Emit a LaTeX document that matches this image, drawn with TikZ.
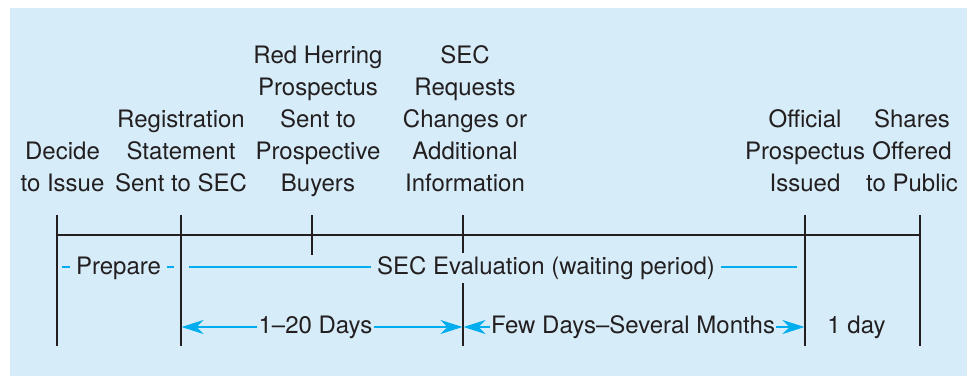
\documentclass[tikz,border=0pt]{standalone}
\usepackage{fontspec}
\setmainfont{TeX Gyre Heros}
\usetikzlibrary{arrows.meta}
\definecolor{bg}{RGB}{214,236,249}
\definecolor{cy}{RGB}{0,174,239}
\definecolor{ink}{RGB}{35,31,32}
\newcommand\stk[1]{\begin{tabular}[b]{@{}c@{}}#1\end{tabular}}
\begin{document}
\begin{tikzpicture}[x=0.5pt,y=-0.5pt,
  every node/.style={font=\fontsize{12}{16}\selectfont, text=ink},
  lbl/.style={anchor=base, inner sep=0pt},
  tick/.style={draw=ink, line width=0.8pt},
  cyl/.style={draw=cy, line width=0.9pt},
  cya/.style={cyl, -{Stealth[length=11pt,width=7pt,inset=3.5pt]}},
  seg/.style={anchor=base, inner xsep=3pt, inner ysep=0pt},
  arl/.style={anchor=base, inner xsep=0.5pt, inner ysep=0pt}]
\useasboundingbox (0,0) rectangle (967,376);
\fill[bg] (10,8) rectangle (967,376);

% event labels
\node[lbl] (decide) at (62.5,191.5) {\stk{Decide\\to Issue}};
\node[lbl] (reg) at (181,191.5) {\stk{Registration\\Statement\\Sent to SEC}};
\node[lbl] (red) at (318,191.5) {\stk{Red Herring\\Prospectus\\Sent to\\Prospective\\Buyers}};
\node[lbl] (secreq) at (465,191.5) {\stk{SEC\\Requests\\Changes or\\Additional\\Information}};
\node[lbl] (off) at (805,191.5) {\stk{Official\\Prospectus\\Issued}};
\node[lbl] (shares) at (912,191.5) {\stk{Shares\\Offered\\to Public}};

% ticks
\coordinate (t1) at (57,215);  \coordinate (b1) at (57,346);
\coordinate (t2) at (181,215); \coordinate (b2) at (181,346);
\coordinate (t3) at (312,215); \coordinate (b3) at (312,255);
\coordinate (t4) at (463,215); \coordinate (m4) at (463,253);
\coordinate (n4) at (463,283); \coordinate (b4) at (463,346);
\coordinate (t5) at (805,215); \coordinate (b5) at (805,346);
\coordinate (t6) at (920,215); \coordinate (b6) at (920,346);
\coordinate (h1) at (57,235);  \coordinate (h6) at (920,235);
\draw[tick] (t1) -- (b1);
\draw[tick] (t2) -- (b2);
\draw[tick] (t3) -- (b3);
\draw[tick] (t4) -- (m4);
\draw[tick] (n4) -- (b4);
\draw[tick] (t5) -- (b5);
\draw[tick] (t6) -- (b6);
\draw[tick] (h1) -- (h6);

% phase row
\coordinate (pl) at (62,267);  \coordinate (pr) at (174,267);
\coordinate (el) at (189,267); \coordinate (er) at (797,267);
\node[seg] (prep) at (118.5,274) {Prepare};
\node[seg] (eval) at (546,274) {SEC Evaluation (waiting period)};
\draw[cyl] (pl) -- (prep.west |- pl);
\draw[cyl] (prep.east |- pr) -- (pr);
\draw[cyl] (el) -- (eval.west |- el);
\draw[cyl] (eval.east |- er) -- (er);

% duration row
\coordinate (a2) at (181.5,327); \coordinate (a4l) at (462.5,327);
\coordinate (a4r) at (463.5,327); \coordinate (a5) at (804.5,327);
\node[arl] (d1) at (315.5,333) {1--20 Days};
\node[arl] (d2) at (633,333) {Few Days--Several Months};
\node[arl] (d3) at (856.5,333) {1 day};
\draw[cya] (d1.west |- a2) -- (a2);
\draw[cya] (d1.east |- a4l) -- (a4l);
\draw[cya] (d2.west |- a4r) -- (a4r);
\draw[cya] (d2.east |- a5) -- (a5);
\end{tikzpicture}
\end{document}
